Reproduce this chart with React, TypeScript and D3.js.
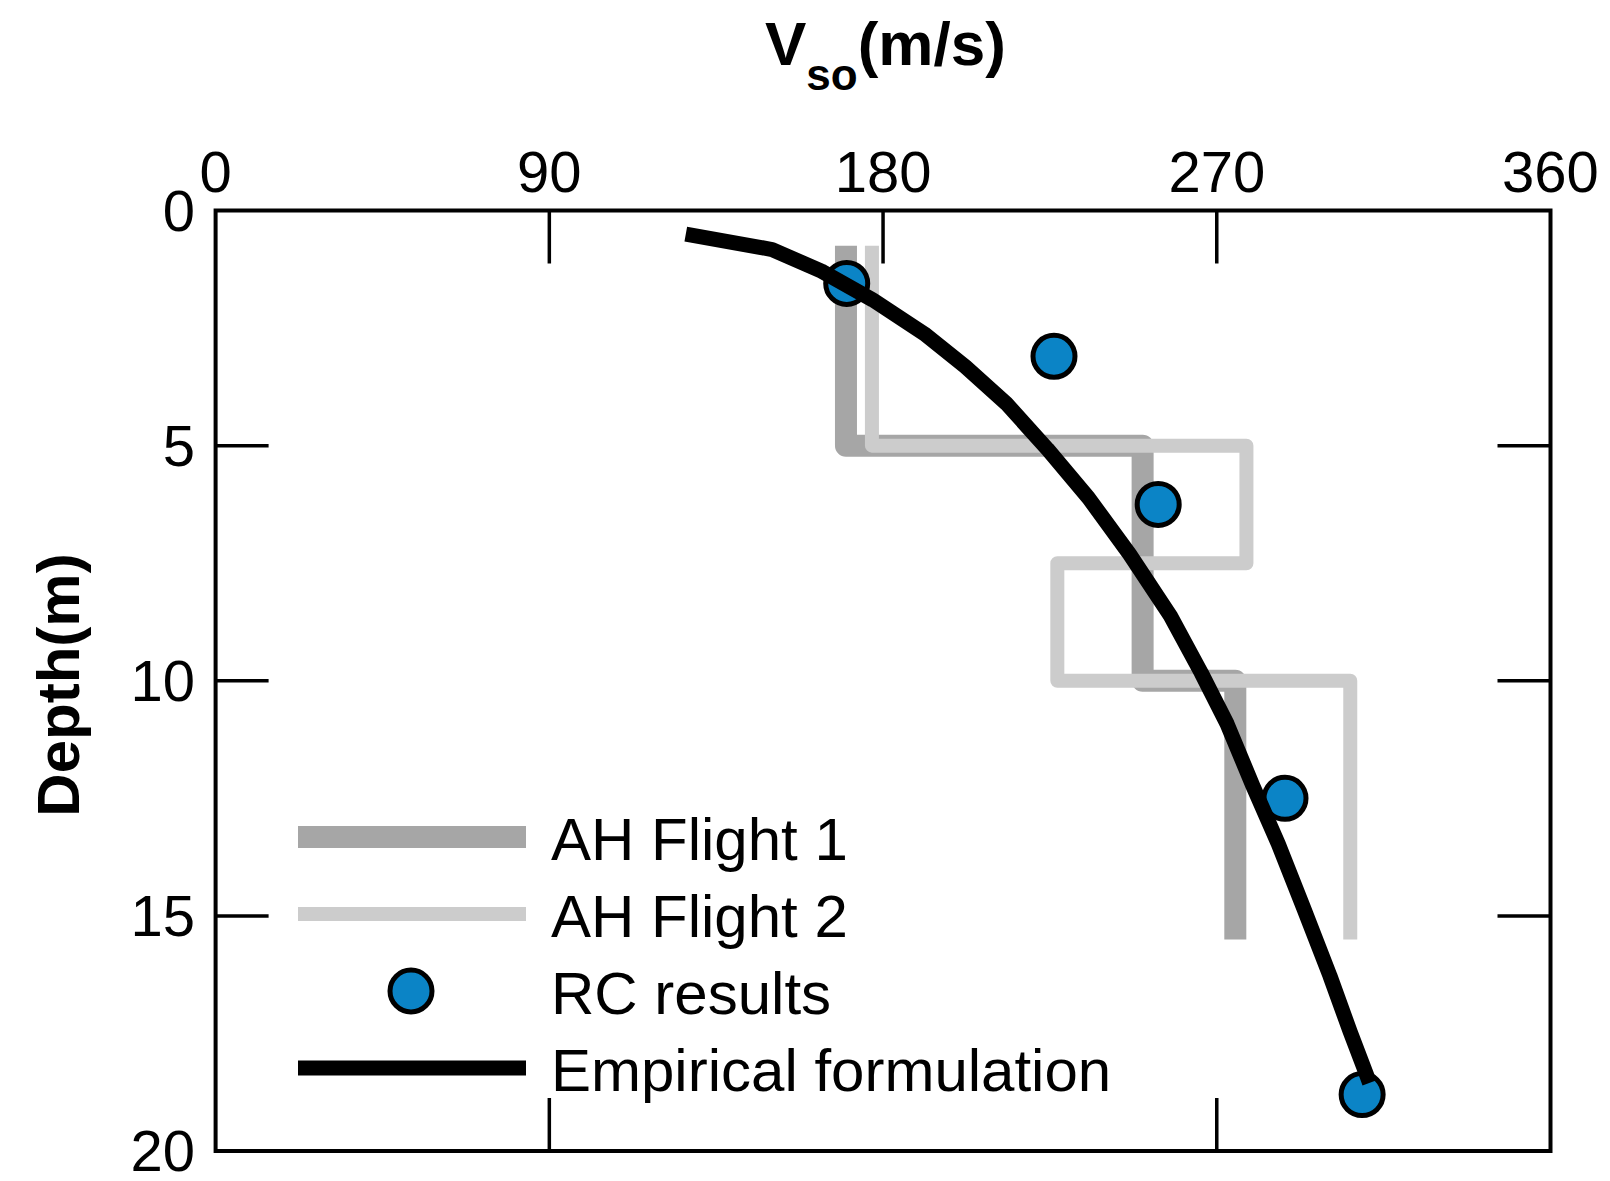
import React from 'react';
import * as d3 from 'd3';

// velocity ticks (top) and depth ticks (left)
const vTicks = [0, 90, 180, 270, 360];
const depthTicks = [0, 5, 10, 15, 20];

// AH flights: layer boundaries (m) and layer velocity (m/s)
const flight1Depth = [0.75, 5, 10, 15.5];
const flight1Vs = [170, 250, 275];
const flight2Depth = [0.75, 5, 7.5, 10, 15.5];
const flight2Vs = [177, 278, 227, 306];

// RC results
const rcVs = [170.2, 226.1, 254.2, 288.4, 309.2];
const rcDepth = [1.55, 3.1, 6.25, 12.5, 18.8];

// empirical formulation
const empVs = [126.8, 150.1, 163.4, 177.2, 191.1, 202.2, 213.2, 224.3, 235.4, 246.5, 257.5, 265.8, 272.8, 279.7, 286.6, 293.5, 300.5, 306.0, 310.2, 311.2];
const empDepth = [0.5, 0.83, 1.29, 1.9, 2.62, 3.32, 4.1, 5.07, 6.11, 7.31, 8.62, 9.83, 10.92, 12.23, 13.47, 14.85, 16.27, 17.47, 18.34, 18.55];

const legendLabels = ['AH Flight 1', 'AH Flight 2', 'RC results', 'Empirical formulation'];

const W = 1610;
const H = 1181;
const left = 215.6, right = 1550.5, top = 210.5, bottom = 1151;
const font = '"Liberation Sans", Arial, sans-serif';

const stepPoints = (depths: number[], vs: number[]) => {
  const pts: [number, number][] = [];
  vs.forEach((v, i) => {
    pts.push([v, depths[i]]);
    pts.push([v, depths[i + 1]]);
  });
  return pts;
};

export default function App() {
  const x = d3.scaleLinear().domain([0, 360]).range([left, right]);
  const y = d3.scaleLinear().domain([0, 20]).range([top, bottom]);
  const line = d3.line<[number, number]>().x(d => x(d[0])).y(d => y(d[1]));

  const f1 = stepPoints(flight1Depth, flight1Vs);
  const f2 = stepPoints(flight2Depth, flight2Vs);
  const emp = empVs.map((v, i) => [v, empDepth[i]] as [number, number]);

  const tickLen = 53;
  const legX0 = 298, legX1 = 526, legText = 551, legY0 = 837, legStep = 77;

  return (
    <svg width={W} height={H} style={{ position: 'absolute', left: 0, top: 0, background: '#fff' }} fontFamily={font}>
      {/* title */}
      <text x={765} y={65} fontSize={62} fontWeight="bold">
        V
        <tspan fontSize={44} dy={25}>so</tspan>
        <tspan fontSize={62} dy={-25}>(m/s)</tspan>
      </text>
      <text transform={`translate(79,685) rotate(-90)`} textAnchor="middle" fontSize={60} fontWeight="bold">Depth(m)</text>

      {/* tick labels */}
      {vTicks.map(t => (
        <text key={'vt' + t} x={x(t)} y={192} textAnchor="middle" fontSize={58}>{t}</text>
      ))}
      {depthTicks.map(t => (
        <text key={'dt' + t} x={195} y={y(t) + 20} textAnchor="end" fontSize={58}>{t}</text>
      ))}

      {/* ticks */}
      <g stroke="#000" strokeWidth={3.5}>
        {[90, 180, 270].map(t => <line key={'tt' + t} x1={x(t)} x2={x(t)} y1={top} y2={top + tickLen} />)}
        {[90, 270].map(t => <line key={'bt' + t} x1={x(t)} x2={x(t)} y1={bottom} y2={bottom - tickLen} />)}
        {[5, 10, 15].map(t => <line key={'lt' + t} x1={left} x2={left + tickLen} y1={y(t)} y2={y(t)} />)}
        {[5, 10, 15].map(t => <line key={'rt' + t} x1={right} x2={right - tickLen} y1={y(t)} y2={y(t)} />)}
      </g>

      {/* data */}
      <path d={line(f1) || ''} fill="none" stroke="#a6a6a6" strokeWidth={22} strokeLinejoin="round" />
      <path d={line(f2) || ''} fill="none" stroke="#cccccc" strokeWidth={14} strokeLinejoin="round" />
      {rcVs.map((v, i) => (
        <circle key={'rc' + i} cx={x(v)} cy={y(rcDepth[i])} r={21} fill="#0b84c6" stroke="#000" strokeWidth={5} />
      ))}
      <path d={line(emp) || ''} fill="none" stroke="#000" strokeWidth={15} strokeLinejoin="round" />

      {/* frame */}
      <rect x={left} y={top} width={right - left} height={bottom - top} fill="none" stroke="#000" strokeWidth={4} />

      {/* legend */}
      <line x1={legX0} x2={legX1} y1={legY0} y2={legY0} stroke="#a6a6a6" strokeWidth={22} />
      <line x1={legX0} x2={legX1} y1={legY0 + legStep} y2={legY0 + legStep} stroke="#cccccc" strokeWidth={14} />
      <circle cx={(legX0 + legX1) / 2 - 1} cy={legY0 + legStep * 2} r={21} fill="#0b84c6" stroke="#000" strokeWidth={5} />
      <line x1={legX0} x2={legX1} y1={legY0 + legStep * 3} y2={legY0 + legStep * 3} stroke="#000" strokeWidth={15} />
      {legendLabels.map((l, i) => (
        <text key={l} x={legText} y={legY0 + legStep * i + 23} fontSize={60}>{l}</text>
      ))}
    </svg>
  );
}
